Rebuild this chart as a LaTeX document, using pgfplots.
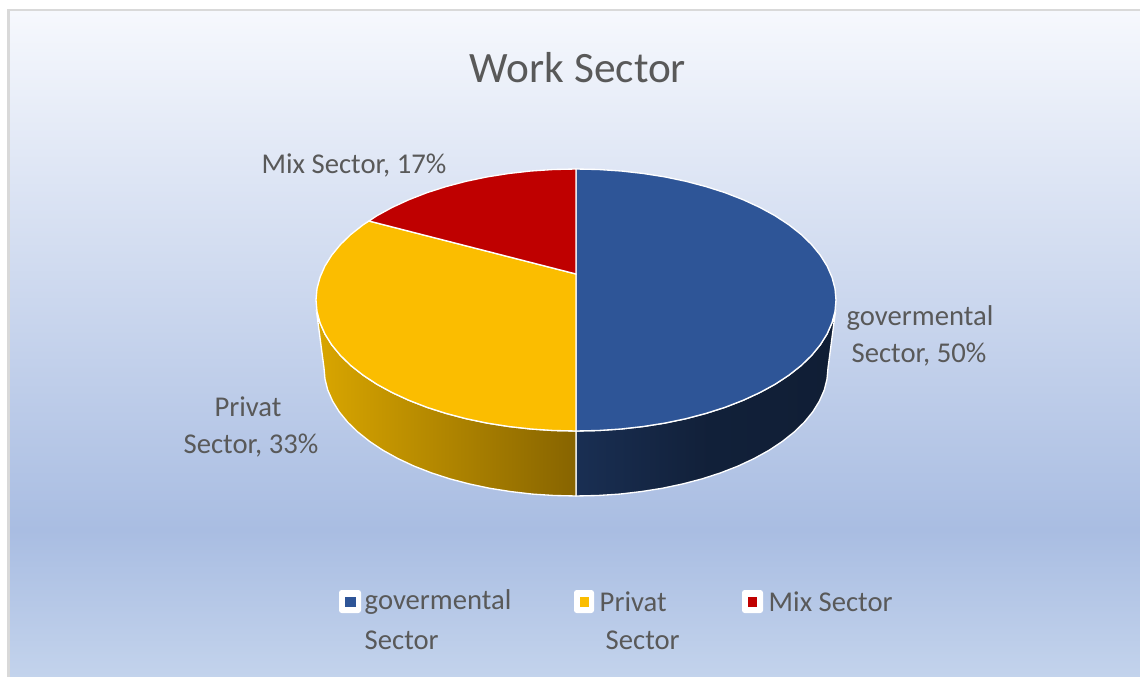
\documentclass[border=0pt]{standalone}
\usepackage{pgfplots}
\usepackage{fontspec}
\setmainfont{Carlito}
\pgfplotsset{compat=1.18}

\definecolor{govblue}{HTML}{2E5597}
\definecolor{privyellow}{HTML}{FBBD00}
\definecolor{mixred}{HTML}{BF0000}
\definecolor{labelgrey}{HTML}{595959}
\definecolor{framegrey}{HTML}{D9D9D9}
\definecolor{bgtop}{RGB}{246,248,253}
\definecolor{bgmid}{RGB}{169,189,226}
\definecolor{bgbot}{RGB}{195,211,236}

\begin{document}
\begin{tikzpicture}
\begin{axis}[
    scale only axis,
    width=855pt,
    height=507.75pt,
    xmin=0, xmax=1140,
    ymin=0, ymax=677,
    y dir=reverse,
    hide axis,
    clip=true,
]
% background panel, image pixels as axis units
\fill[white] (axis cs:0,0) rectangle (axis cs:1140,677);
\fill[framegrey] (axis cs:7,9) rectangle (axis cs:1140,677);
\fill[top color=bgtop, bottom color=bgmid, draw=none] (axis cs:10,12) rectangle (axis cs:1140,530);
\fill[top color=bgmid, bottom color=bgbot, draw=none] (axis cs:10,530) rectangle (axis cs:1140,677);

% side wall, right part
\addplot[draw=white, line width=1pt, left color=govblue!55!black, right color=govblue!35!black, middle color=govblue!38!black] coordinates {
(576,431) (598.7,430.5) (621.1,429) (643.3,426.5) (664.9,423.1) (685.9,418.7) (706,413.4) (725.1,407.3)
(743.1,400.3) (759.8,392.6) (775.2,384.2) (789,375.1) (801.2,365.5) (811.6,355.4) (820.3,344.8) (827.1,333.9)
(832,322.7) (835,315)
(828,368) (827,379.2) (824.2,390.2) (819.4,401.1) (812.8,411.8) (804.4,422.1) (794.2,432) (782.4,441.4)
(769,450.3) (754.2,458.5) (738,466.1) (720.5,472.9) (702,478.9) (682.5,484) (662.2,488.3) (641.2,491.6)
(619.7,494.1) (598,495.5) (576,496)
} -- cycle;

% side wall, left part
\addplot[draw=white, line width=1pt, left color={rgb,255:red,217;green,166;blue,0}, right color={rgb,255:red,135;green,100;blue,0}] coordinates {
(576,431) (553.3,430.5) (530.9,429) (508.7,426.5) (487.1,423.1) (466.1,418.7) (446,413.4) (426.9,407.3)
(408.9,400.3) (392.2,392.6) (376.8,384.2) (363,375.1) (350.8,365.5) (340.4,355.4) (331.7,344.8) (324.9,333.9)
(320,322.7) (317,315)
(324,368) (325,379.2) (327.8,390.2) (332.6,401.1) (339.2,411.8) (347.6,422.1) (357.8,432) (369.6,441.4)
(383,450.3) (397.8,458.5) (414,466.1) (431.5,472.9) (450,478.9) (469.5,484) (489.8,488.3) (510.8,491.6)
(532.3,494.1) (554,495.5) (576,496)
} -- cycle;

% top face: governmental 50%
\addplot[fill=govblue, draw=white, line width=1pt] coordinates {
(576,274) (576,169) (598.7,169.5) (621.1,171) (643.3,173.5) (664.9,176.9) (685.9,181.3) (706,186.6) (725.1,192.7)
(743.1,199.7) (759.8,207.4) (775.2,215.8) (789,224.9) (801.2,234.5) (811.6,244.6) (820.3,255.2) (827.1,266.1)
(832,277.3) (835,288.6) (836,300) (835,311.4) (832,322.7) (827.1,333.9) (820.3,344.8) (811.6,355.4)
(801.2,365.5) (789,375.1) (775.2,384.2) (759.8,392.6) (743.1,400.3) (725.1,407.3) (706,413.4) (685.9,418.7)
(664.9,423.1) (643.3,426.5) (621.1,429) (598.7,430.5) (576,431)
} -- cycle;

% top face: private 33%
\addplot[fill=privyellow, draw=white, line width=1pt] coordinates {
(576,274) (576,431) (553.3,430.5) (530.9,429) (508.7,426.5) (487.1,423.1) (466.1,418.7) (446,413.4) (426.9,407.3)
(408.9,400.3) (392.2,392.6) (376.8,384.2) (363,375.1) (350.8,365.5) (340.4,355.4) (331.7,344.8) (324.9,333.9)
(320,322.7) (317,311.4) (316,300) (317,288.6) (320,277.3) (324.9,266.1) (331.7,255.2) (340.4,244.6)
(350.8,234.5) (363,224.9) (369,221)
} -- cycle;

% top face: mix 17%
\addplot[fill=mixred, draw=white, line width=1pt] coordinates {
(576,274) (369,221) (376.8,215.8) (392.2,207.4) (408.9,199.7) (426.9,192.7) (446,186.6) (466.1,181.3)
(487.1,176.9) (508.7,173.5) (530.9,171) (553.3,169.5) (576,169)
} -- cycle;

% legend keys
\addplot[fill=white, draw=none, rounded corners=2pt] coordinates {(339,590) (361,590) (361,613) (339,613)} -- cycle;
\addplot[fill=white, draw=none, rounded corners=2pt] coordinates {(574,590) (594,590) (594,613) (574,613)} -- cycle;
\addplot[fill=white, draw=none, rounded corners=2pt] coordinates {(742,590) (763,590) (763,613) (742,613)} -- cycle;
\addplot[fill=govblue, draw=none] coordinates {(345,597) (356,597) (356,607) (345,607)} -- cycle;
\addplot[fill=privyellow, draw=none] coordinates {(579.5,597) (588.5,597) (588.5,607) (579.5,607)} -- cycle;
\addplot[fill=mixred, draw=none] coordinates {(747.5,597) (756.5,597) (756.5,607) (747.5,607)} -- cycle;

% text
\node[text=labelgrey, font=\fontsize{32.5}{36}\selectfont] at (axis cs:578,68) {Work Sector};
\begin{scope}[every node/.style={text=labelgrey, font=\fontsize{21.5}{24}\selectfont}]
\node at (axis cs:354,165) {Mix Sector, 17\%};
\node at (axis cs:248,407) {Privat};
\node at (axis cs:251,446) {Sector, 33\%};
\node at (axis cs:920,318) {govermental};
\node at (axis cs:919,355) {Sector, 50\%};
\node[anchor=west] at (axis cs:360,602) {govermental};
\node[anchor=west] at (axis cs:360,640) {Sector};
\node[anchor=west] at (axis cs:595,602) {Privat};
\node[anchor=west] at (axis cs:601,640) {Sector};
\node[anchor=west] at (axis cs:764,602) {Mix Sector};
\end{scope}
\end{axis}
\end{tikzpicture}
\end{document}
